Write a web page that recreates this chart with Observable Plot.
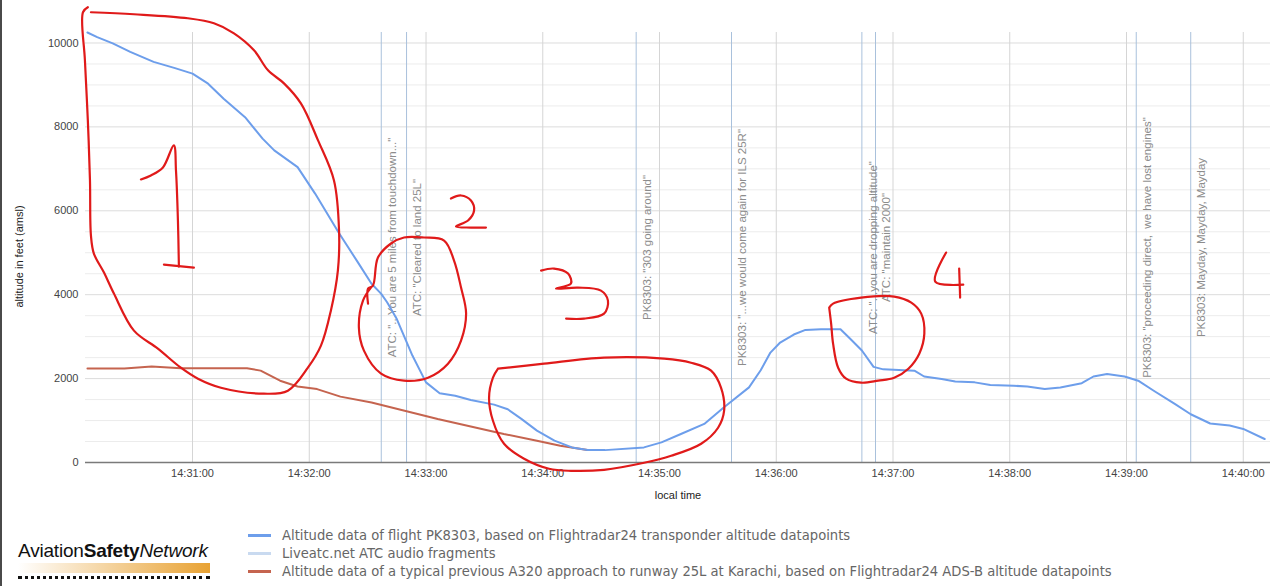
<!DOCTYPE html>
<html><head><meta charset="utf-8">
<script src="https://cdn.jsdelivr.net/npm/d3@7"></script>
<script src="https://cdn.jsdelivr.net/npm/@observablehq/plot@0.6"></script>
<style>
body{margin:0;background:#fff;}
#wrap{position:relative;width:1280px;height:586px;overflow:hidden;background:#fff;}
#edge{position:absolute;left:0;top:0;width:2px;height:586px;background:#4a4a4a;}
#chart{position:absolute;left:0;top:0;}
#logo{position:absolute;left:18px;top:540px;font-family:Arial,"Liberation Sans",sans-serif;font-size:19px;color:#111;letter-spacing:-0.2px;white-space:nowrap;}
#logo b{font-weight:bold;}
#logo i{font-style:italic;}
#logobar{position:absolute;left:18px;top:563px;width:192px;height:10px;background:linear-gradient(to right,rgba(255,255,255,0),#e8a233);}
#logodots{position:absolute;left:18px;top:576px;width:192px;height:0;border-top:3px dotted #111;}
#legend{position:absolute;left:248px;top:526px;font-family:"Liberation Sans Narrow","DejaVu Sans Condensed",Arial,sans-serif;font-size:14.6px;color:#666;}
.item{height:18px;line-height:18px;white-space:nowrap;display:flex;align-items:center;}
.sw{display:inline-block;width:23px;height:3px;margin-right:11px;}
</style></head><body>
<div id="wrap">
<div id="chart"></div>
<div id="edge"></div>
<div id="logo">Aviation<b>Safety</b><i>Network</i></div>
<div id="logobar"></div>
<div id="logodots"></div>
<div id="legend"></div>
</div>
<script>
// ---- data ----
const dayPrefix = "2020-05-22T";
const xDomain = ["14:30:05", "14:40:14"];
const xTickTimes = ["14:31:00","14:32:00","14:33:00","14:34:00","14:35:00","14:36:00","14:37:00","14:38:00","14:39:00","14:40:00"];
const yTickValues = [0, 2000, 4000, 6000, 8000, 10000];
const yMinorValues = [500,1000,1500,2500,3000,3500,4500,5000,5500,6500,7000,7500,8500,9000,9500];

// PK8303 altitude (Flightradar24)
const pk8303Times = ["14:30:06","14:30:11","14:30:19","14:30:28","14:30:40","14:30:51","14:31:00","14:31:08","14:31:16","14:31:27","14:31:36","14:31:42","14:31:54","14:32:03","14:32:15","14:32:25","14:32:32","14:32:37","14:32:40","14:32:45","14:32:49","14:32:53","14:33:00","14:33:07","14:33:15","14:33:23","14:33:35","14:33:42","14:33:49","14:33:57","14:34:06","14:34:15","14:34:23","14:34:32","14:34:52","14:35:01","14:35:11","14:35:23","14:35:33","14:35:46","14:35:52","14:35:57","14:36:02","14:36:09","14:36:15","14:36:23","14:36:33","14:36:38","14:36:44","14:36:50","14:36:55","14:37:11","14:37:16","14:37:25","14:37:32","14:37:42","14:37:50","14:38:02","14:38:09","14:38:18","14:38:26","14:38:37","14:38:43","14:38:50","14:38:59","14:39:06","14:39:14","14:39:25","14:39:33","14:39:43","14:39:53","14:40:00","14:40:11"];
const pk8303Alt = [10250,10140,9990,9790,9550,9400,9270,9030,8670,8230,7720,7440,7040,6410,5490,4770,4260,4020,3820,3420,2980,2550,1910,1650,1590,1490,1380,1270,1040,760,520,360,300,295,360,480,680,920,1310,1790,2200,2620,2860,3050,3160,3175,3175,2950,2670,2280,2220,2190,2050,1990,1930,1910,1850,1830,1810,1750,1790,1890,2050,2110,2050,1950,1710,1390,1150,930,880,800,560];

// typical previous A320 approach to 25L
const a320Times = ["14:30:06","14:30:25","14:30:39","14:30:54","14:31:28","14:31:35","14:31:45","14:31:54","14:32:04","14:32:16","14:32:32","14:32:49","14:33:06","14:33:23","14:33:40","14:33:57","14:34:09","14:34:23"];
const a320Alt = [2240,2240,2290,2245,2245,2190,1950,1810,1750,1570,1430,1235,1035,860,680,520,400,300];

// Liveatc.net ATC audio fragments
const atcTimes = ["14:32:37","14:32:50","14:34:48","14:35:37","14:36:44","14:36:51","14:39:05","14:39:33"];
const atcLabels = [
  'ATC: "...You are 5 miles from touchdown..."',
  'ATC: "Cleared to land 25L"',
  'PK8303: "303 going around"',
  'PK8303: "...we would come again for ILS 25R"',
  'ATC: "...you are dropping altitude"',
  'ATC: "maintain 2000"',
  'PK8303: "proceeding direct,  we have lost engines"',
  'PK8303: Mayday, Mayday, Mayday'
];

// hand-drawn red annotations: [seconds after 14:31:00, altitude ft]
const annotBase = "14:31:00";
const markLoop1 = [[-53.8,10852],[-56.3,10733],[-55.3,9587],[-53.8,8155],[-52.7,6723],[-52.2,5410],[-50.7,4981],[-45.5,4527],[-40.4,4026],[-30.1,3143],[-17.8,2714],[-6.0,2260],[2.8,1998],[14.6,1783],[36.7,1640],[49.0,1711],[59.3,2260],[66.0,2785],[71.1,3620],[74.7,4575],[75.3,5530],[72.7,6723],[64.5,7678],[55.7,8561],[47.0,9038],[38.8,9348],[31.6,9826],[21.3,10231],[11.0,10470],[-2.4,10589],[-30.1,10685],[-52.2,10733]];
const markNum1 = [[-26.5,6747],[-21.4,6842],[-15.2,7033],[-9.6,7558],[-8.5,6962],[-7.5,5768],[-7.0,4671]];
const markNum1Bar = [[-14.7,4718],[0.7,4647]];
const markLoop2 = [[90.2,3788],[90.2,4145],[92.7,4217],[95.3,4885],[102.0,5220],[108.7,5363],[119.0,5363],[129.3,5291],[134.4,4814],[138.0,4169],[140.6,3549],[138.0,2904],[131.3,2356],[121.0,2021],[108.7,1950],[96.9,2117],[88.1,2666],[85.5,3215],[87.6,3859],[91.7,4169]];
const markNum2 = [[132.8,6293],[138.0,6365],[143.1,6246],[144.7,6007],[141.6,5768],[135.4,5625],[143.1,5601],[150.8,5601]];
const markNum3 = [[179.1,4575],[185.8,4623],[193.0,4503],[194.5,4265],[186.8,4145],[198.1,4169],[209.9,4098],[213.5,3859],[211.5,3549],[201.2,3430],[192.0,3430]];
const markLoop3 = [[157.0,2236],[180.7,2356],[211.5,2499],[242.4,2475],[256.2,2379],[266.5,2189],[271.6,1783],[273.2,1234],[270.1,828],[261.4,446],[246.0,160],[232.1,-7],[211.5,-174],[194.5,-198],[183.2,-150],[170.4,88],[160.1,446],[154.4,995],[152.4,1544],[154.4,2021],[157.0,2236]];
const markLoop4 = [[327.2,3692],[329.2,3788],[343.6,3931],[360.6,3955],[369.4,3811],[374.5,3549],[376.1,3071],[373.5,2594],[367.9,2236],[360.6,2021],[352.4,1950],[343.6,1902],[335.9,1998],[331.8,2260],[329.2,2833],[328.2,3310],[327.2,3692]];
const markNum4A = [[387.3,5005],[381.7,4313],[396.1,4241]];
const markNum4B = [[394.0,4623],[394.5,3931]];

const legendLabels = [
  "Altitude data of flight PK8303, based on Flightradar24 transponder altitude datapoints",
  "Liveatc.net ATC audio fragments",
  "Altitude data of a typical previous A320 approach to runway 25L at Karachi, based on Flightradar24 ADS-B altitude datapoints"
];
const legendColors = ["#6d9eeb", "#c9daf0", "#c5644f"];

// ---- build ----
const parse = s => new Date(dayPrefix + s + "Z");
const base = parse(annotBase);
const pk8303 = pk8303Times.map((t, i) => ({t: parse(t), alt: pk8303Alt[i]}));
const a320 = a320Times.map((t, i) => ({t: parse(t), alt: a320Alt[i]}));
const atc = atcTimes.map((t, i) => ({t: parse(t), label: atcLabels[i]}));
const strokes = [markLoop1, markNum1, markNum1Bar, markLoop2, markNum2, markNum3, markLoop3, markLoop4, markNum4A, markNum4B];
const annot = strokes.flatMap((s, k) => s.map(([sec, alt]) => ({t: new Date(+base + sec * 1000), alt, k})));

const chart = Plot.plot({
  width: 1280, height: 510,
  marginLeft: 85, marginRight: 10, marginTop: 32, marginBottom: 48,
  style: {fontFamily: "Arial, 'Liberation Sans', sans-serif", fontSize: "11px", color: "#444", background: "#fff", overflow: "visible"},
  x: {type: "utc", domain: xDomain.map(parse), ticks: xTickTimes.map(parse), tickFormat: d3.utcFormat("%H:%M:%S"), tickSize: 0, tickPadding: 7, label: null},
  y: {domain: [0, 10250], ticks: yTickValues, tickFormat: d => String(d), tickSize: 0, tickPadding: 7, label: null},
  marks: [
    Plot.ruleY(yMinorValues, {stroke: "#ececec"}),
    Plot.ruleY(yTickValues, {stroke: "#dcdcdc"}),
    Plot.ruleX(xTickTimes.map(parse), {stroke: "#d5d5d5"}),
    Plot.ruleX(atc, {x: "t", stroke: "#a9c1dc"}),
    Plot.text(atc, {x: "t", text: "label", frameAnchor: "middle", textAnchor: "middle", rotate: -90, dx: 11, lineAnchor: "middle", fill: "#8c8c8c", fontSize: 11.5}),
    Plot.ruleY([0], {stroke: "#7a7a7a", strokeWidth: 1.5}),
    Plot.line(a320, {x: "t", y: "alt", stroke: "#c5644f", strokeWidth: 2}),
    Plot.line(pk8303, {x: "t", y: "alt", stroke: "#6d9eeb", strokeWidth: 2}),
    Plot.line(annot, {x: "t", y: "alt", z: "k", stroke: "#e01a1a", strokeWidth: 2.2, curve: "catmull-rom"}),
    Plot.text(["altitude in feet (amsl)"], {text: d => d, frameAnchor: "left", textAnchor: "middle", lineAnchor: "middle", dx: -66, dy: 9, rotate: -90, fill: "#222", fontSize: 11}),
    Plot.text(["local time"], {text: d => d, frameAnchor: "bottom", textAnchor: "middle", lineAnchor: "middle", dy: 33, fill: "#222", fontSize: 11})
  ]
});
document.getElementById("chart").appendChild(chart);

const legend = document.getElementById("legend");
legendLabels.forEach((lab, i) => {
  const row = document.createElement("div");
  row.className = "item";
  const sw = document.createElement("span");
  sw.className = "sw";
  sw.style.background = legendColors[i];
  row.appendChild(sw);
  row.appendChild(document.createTextNode(lab));
  legend.appendChild(row);
});
</script>
</body></html>
